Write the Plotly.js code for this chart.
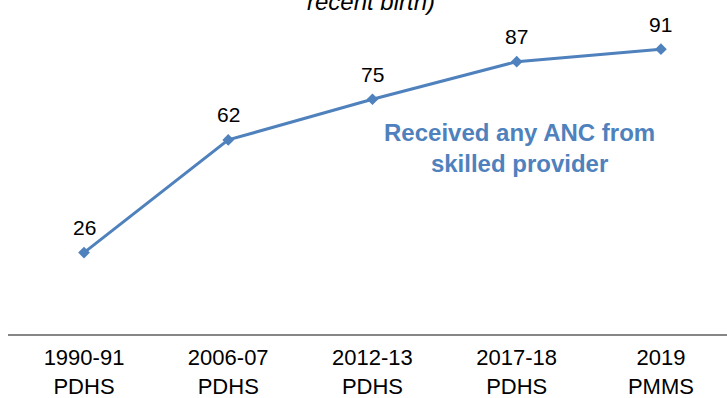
<!DOCTYPE html>
<html>
<head>
<meta charset="utf-8">
<script src="https://cdn.plot.ly/plotly-3.0.1.min.js"></script>
<style>html,body{margin:0;padding:0;background:#fff;}#chart{width:727px;height:398px;}</style>
</head>
<body>
<div id="chart"></div>
<script>
const categories = ["1990-91<br>PDHS", "2006-07<br>PDHS", "2012-13<br>PDHS", "2017-18<br>PDHS", "2019<br>PMMS"];
const anc = [26, 62, 75, 87, 91];
const seriesName = "Received any ANC from<br>skilled provider";
const titleTail = "recent birth)";

const blue = "#4f81bd";
const font = "Liberation Sans, Arial, sans-serif";

const trace = {
  x: categories, y: anc, type: "scatter", mode: "lines+markers",
  line: {color: blue, width: 3},
  marker: {symbol: "diamond", size: 9, color: blue},
  hoverinfo: "none"
};

const labelAnns = categories.map((c, i) => ({
  x: c, y: anc[i], xref: "x", yref: "y", text: String(anc[i]),
  showarrow: false, yshift: 25, font: {family: font, size: 21, color: "#000"}
}));

const layout = {
  width: 727, height: 398,
  margin: {l: 8, r: 0, t: 0, b: 64},
  paper_bgcolor: "#fff", plot_bgcolor: "#fff",
  showlegend: false,
  xaxis: {
    type: "category", range: [-0.527, 4.458],
    showline: true, linecolor: "#868686", linewidth: 1.5,
    showgrid: false, zeroline: false, ticks: "", ticklabelstandoff: 3,
    tickfont: {family: font, size: 22, color: "#000"}, fixedrange: true
  },
  yaxis: {range: [0, 106.7], visible: false, showgrid: false, zeroline: false, fixedrange: true},
  annotations: labelAnns.concat([
    {x: 3.02, y: 59.4, xref: "x", yref: "y", text: "<b>" + seriesName + "</b>", showarrow: false,
     font: {family: font, size: 24, color: blue}, align: "center"},
    {x: 0.505, y: 1, xref: "paper", yref: "paper", text: "<i>" + titleTail + "</i>", showarrow: false,
     yanchor: "bottom", yshift: -17, font: {family: font, size: 24, color: "#000"}}
  ])
};

Plotly.newPlot("chart", [trace], layout, {displayModeBar: false, staticPlot: true});
</script>
</body>
</html>
